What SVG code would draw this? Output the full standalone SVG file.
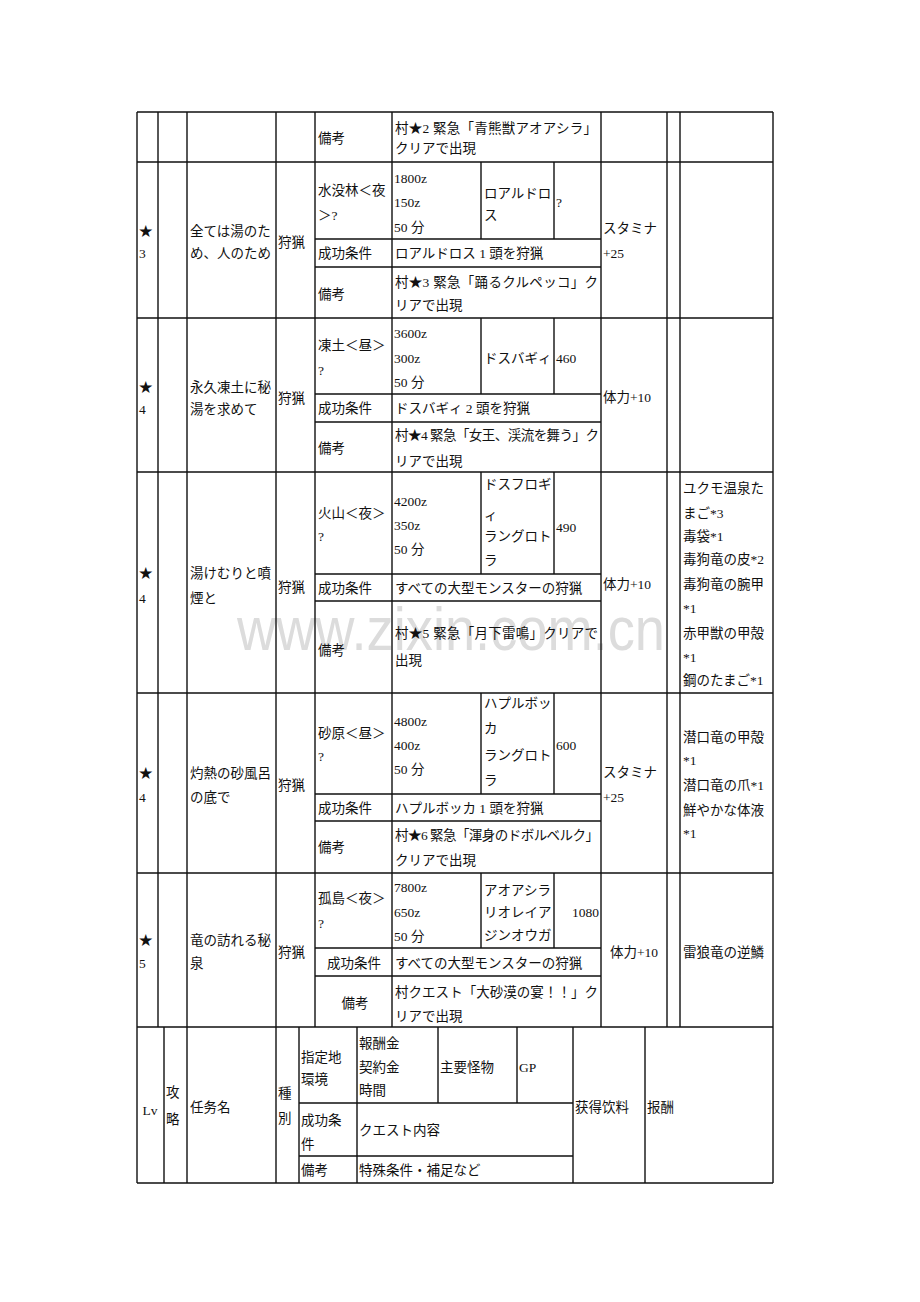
<svg xmlns="http://www.w3.org/2000/svg" width="920" height="1302" viewBox="0 0 920 1302">
<style>
.t{font-family:"Liberation Serif","Noto Sans CJK JP",serif;font-size:13.5px;fill:#111}
.c{text-anchor:middle}
.e{text-anchor:end}
.wm{font-family:"Liberation Sans",Arial,sans-serif;font-size:62px;fill:#dcdcdc}
.grid{fill:none;stroke:#111;stroke-width:1.4}
</style>
<rect width="920" height="1302" fill="#fff"/>
<text class="wm" x="237" y="650" textLength="428" lengthAdjust="spacingAndGlyphs">www.zixin.com.cn</text>
<g id="grid">
<path class="grid" d="M137 112H773 M137 162H773 M137 318H773 M137 472H773 M137 693H773 M137 873H773 M137 1027H773 M137 1183H773
M315 239H601 M315 267H601 M315 394H601 M315 422H601 M315 574H601 M315 601H601 M315 794H601 M315 821H601 M315 948H601 M315 976H601 M299 1103H573 M299 1156H573
M137 112V1183 M773 112V1183 M158 112V1027 M187 112V1183 M276 112V1183 M315 112V1027 M392 112V1027 M601 112V1027 M667 112V1027 M680 112V1027
M481 162V239 M554 162V239 M481 318V394 M554 318V394 M481 472V574 M554 472V574 M481 693V794 M554 693V794 M481 873V948 M554 873V948
M164 1027V1183 M299 1027V1183 M357 1027V1183 M438 1027V1103 M517 1027V1103 M573 1027V1183 M645 1027V1183"/>
</g>
<g id="row-top">
<text class="t" x="318" y="143">備考</text>
<text class="t" x="395" y="133" textLength="202">村★2 緊急「青熊獣アオアシラ」</text>
<text class="t" x="395" y="153">クリアで出現</text>
</g>
<g id="row-star3">
<text class="t" x="139" y="236">★</text>
<text class="t" x="139" y="258">3</text>
<text class="t" x="190" y="236">全ては湯のた</text>
<text class="t" x="190" y="258">め、人のため</text>
<text class="t" x="278" y="247">狩猟</text>
<text class="t" x="318" y="195">水没林＜夜</text>
<text class="t" x="318" y="220">＞?</text>
<text class="t" x="394" y="183">1800z</text>
<text class="t" x="394" y="207">150z</text>
<text class="t" x="394" y="232">50 分</text>
<text class="t" x="484" y="198">ロアルドロ</text>
<text class="t" x="484" y="220">ス</text>
<text class="t" x="556" y="207">?</text>
<text class="t" x="318" y="258">成功条件</text>
<text class="t" x="395" y="258">ロアルドロス 1 頭を狩猟</text>
<text class="t" x="318" y="299">備考</text>
<text class="t" x="395" y="287" textLength="203">村★3 緊急「踊るクルペッコ」ク</text>
<text class="t" x="395" y="310">リアで出現</text>
<text class="t" x="603" y="233">スタミナ</text>
<text class="t" x="603" y="258">+25</text>
</g>
<g id="row-star4a">
<text class="t" x="139" y="392">★</text>
<text class="t" x="139" y="414">4</text>
<text class="t" x="190" y="392">永久凍土に秘</text>
<text class="t" x="190" y="414">湯を求めて</text>
<text class="t" x="278" y="403">狩猟</text>
<text class="t" x="318" y="350">凍土＜昼＞</text>
<text class="t" x="318" y="375">?</text>
<text class="t" x="394" y="338">3600z</text>
<text class="t" x="394" y="363">300z</text>
<text class="t" x="394" y="387">50 分</text>
<text class="t" x="484" y="363">ドスバギィ</text>
<text class="t" x="556" y="363">460</text>
<text class="t" x="318" y="413">成功条件</text>
<text class="t" x="395" y="413">ドスバギィ 2 頭を狩猟</text>
<text class="t" x="318" y="453">備考</text>
<text class="t" x="395" y="440" textLength="204">村★4 緊急「女王、渓流を舞う」ク</text>
<text class="t" x="395" y="466">リアで出現</text>
<text class="t" x="603" y="402">体力+10</text>
</g>
<g id="row-star4b">
<text class="t" x="139" y="578">★</text>
<text class="t" x="139" y="603">4</text>
<text class="t" x="190" y="578">湯けむりと噴</text>
<text class="t" x="190" y="603">煙と</text>
<text class="t" x="278" y="592">狩猟</text>
<text class="t" x="318" y="518">火山＜夜＞</text>
<text class="t" x="318" y="541">?</text>
<text class="t" x="394" y="506">4200z</text>
<text class="t" x="394" y="530">350z</text>
<text class="t" x="394" y="554">50 分</text>
<text class="t" x="484" y="489">ドスフロギ</text>
<text class="t" x="484" y="520">ィ</text>
<text class="t" x="484" y="541">ラングロト</text>
<text class="t" x="484" y="565">ラ</text>
<text class="t" x="556" y="532">490</text>
<text class="t" x="318" y="593">成功条件</text>
<text class="t" x="395" y="593">すべての大型モンスターの狩猟</text>
<text class="t" x="318" y="655">備考</text>
<text class="t" x="395" y="638" textLength="203">村★5 緊急「月下雷鳴」クリアで</text>
<text class="t" x="395" y="665">出現</text>
<text class="t" x="603" y="589">体力+10</text>
<text class="t" x="683" y="493">ユクモ温泉た</text>
<text class="t" x="683" y="518">まご*3</text>
<text class="t" x="683" y="541">毒袋*1</text>
<text class="t" x="683" y="564">毒狗竜の皮*2</text>
<text class="t" x="683" y="589">毒狗竜の腕甲</text>
<text class="t" x="683" y="613">*1</text>
<text class="t" x="683" y="638">赤甲獣の甲殻</text>
<text class="t" x="683" y="662">*1</text>
<text class="t" x="683" y="685">鋼のたまご*1</text>
</g>
<g id="row-star4c">
<text class="t" x="139" y="778">★</text>
<text class="t" x="139" y="802">4</text>
<text class="t" x="190" y="778">灼熱の砂風呂</text>
<text class="t" x="190" y="802">の底で</text>
<text class="t" x="278" y="790">狩猟</text>
<text class="t" x="318" y="738">砂原＜昼＞</text>
<text class="t" x="318" y="761">?</text>
<text class="t" x="394" y="726">4800z</text>
<text class="t" x="394" y="750">400z</text>
<text class="t" x="394" y="774">50 分</text>
<text class="t" x="484" y="708">ハプルボッ</text>
<text class="t" x="484" y="733">カ</text>
<text class="t" x="484" y="760">ラングロト</text>
<text class="t" x="484" y="785">ラ</text>
<text class="t" x="556" y="750">600</text>
<text class="t" x="318" y="813">成功条件</text>
<text class="t" x="395" y="813">ハプルボッカ 1 頭を狩猟</text>
<text class="t" x="318" y="852">備考</text>
<text class="t" x="395" y="840" textLength="204">村★6 緊急「渾身のドボルベルク」</text>
<text class="t" x="395" y="865">クリアで出現</text>
<text class="t" x="603" y="777">スタミナ</text>
<text class="t" x="603" y="802">+25</text>
<text class="t" x="683" y="742">潜口竜の甲殻</text>
<text class="t" x="683" y="765">*1</text>
<text class="t" x="683" y="790">潜口竜の爪*1</text>
<text class="t" x="683" y="815">鮮やかな体液</text>
<text class="t" x="683" y="838">*1</text>
</g>
<g id="row-star5">
<text class="t" x="139" y="945">★</text>
<text class="t" x="139" y="968">5</text>
<text class="t" x="190" y="945">竜の訪れる秘</text>
<text class="t" x="190" y="968">泉</text>
<text class="t" x="278" y="957">狩猟</text>
<text class="t" x="318" y="903">孤島＜夜＞</text>
<text class="t" x="318" y="928">?</text>
<text class="t" x="394" y="892">7800z</text>
<text class="t" x="394" y="917">650z</text>
<text class="t" x="394" y="941">50 分</text>
<text class="t" x="484" y="895">アオアシラ</text>
<text class="t" x="484" y="917">リオレイア</text>
<text class="t" x="484" y="940">ジンオウガ</text>
<text class="t e" x="599" y="917">1080</text>
<text class="t c" x="354" y="968">成功条件</text>
<text class="t" x="395" y="968">すべての大型モンスターの狩猟</text>
<text class="t c" x="355" y="1008">備考</text>
<text class="t" x="395" y="997" textLength="203">村クエスト「大砂漠の宴！！」ク</text>
<text class="t" x="395" y="1021">リアで出現</text>
<text class="t c" x="634" y="957">体力+10</text>
<text class="t" x="683" y="957">雷狼竜の逆鱗</text>
</g>
<g id="header">
<text class="t c" x="150" y="1115">Lv</text>
<text class="t" x="166" y="1097">攻</text>
<text class="t" x="166" y="1124">略</text>
<text class="t" x="190" y="1112">任务名</text>
<text class="t" x="278" y="1098">種</text>
<text class="t" x="278" y="1123">別</text>
<text class="t" x="301" y="1062">指定地</text>
<text class="t" x="301" y="1084">環境</text>
<text class="t" x="359" y="1048">報酬金</text>
<text class="t" x="359" y="1072">契約金</text>
<text class="t" x="359" y="1095">時間</text>
<text class="t" x="440" y="1072">主要怪物</text>
<text class="t" x="519" y="1072">GP</text>
<text class="t" x="301" y="1125">成功条</text>
<text class="t" x="301" y="1149">件</text>
<text class="t" x="359" y="1135">クエスト内容</text>
<text class="t" x="301" y="1175">備考</text>
<text class="t" x="359" y="1175">特殊条件・補足など</text>
<text class="t" x="575" y="1112">获得饮料</text>
<text class="t" x="647" y="1112">报酬</text>
</g>
</svg>
